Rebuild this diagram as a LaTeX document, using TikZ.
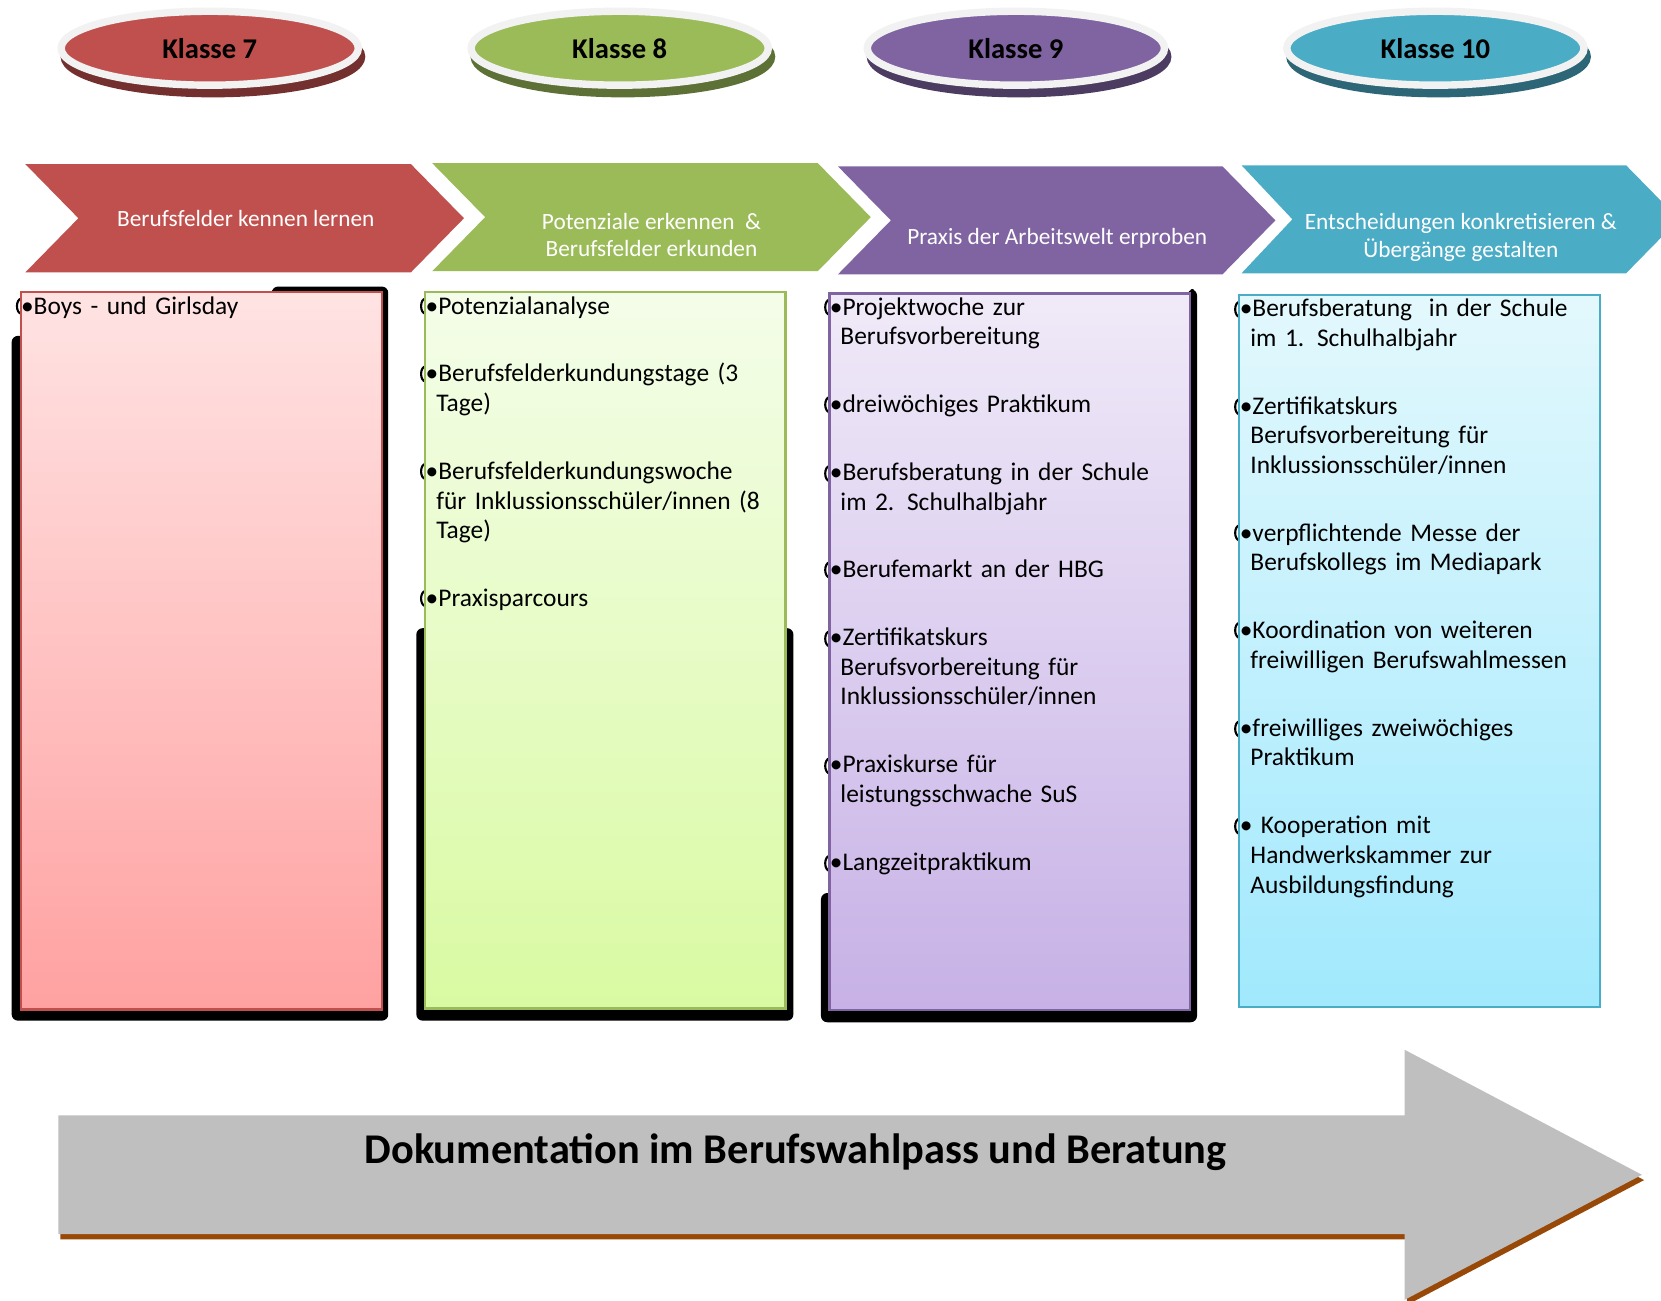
\documentclass[tikz,border=0pt]{standalone}
\usepackage{fontspec}
\setmainfont{Carlito}
\usetikzlibrary{shapes.geometric, positioning}
\definecolor{KlasseRed}{HTML}{C0504D}
\definecolor{KlasseGreen}{HTML}{9BBB59}
\definecolor{KlassePurple}{HTML}{8064A2}
\definecolor{KlasseTeal}{HTML}{4BACC6}
\definecolor{RingGrey}{HTML}{F2F2F2}
\definecolor{ArrowGrey}{HTML}{BFBFBF}
\definecolor{ArrowBrown}{HTML}{984807}
\definecolor{RedTop}{HTML}{FFE3E3}
\definecolor{RedBottom}{HTML}{FFA1A1}
\definecolor{GreenTop}{HTML}{F4FDE9}
\definecolor{GreenBottom}{HTML}{D9FAA2}
\definecolor{PurpleTop}{HTML}{F0EAF8}
\definecolor{PurpleBottom}{HTML}{C7B1E6}
\definecolor{TealTop}{HTML}{E3F8FD}
\definecolor{TealBottom}{HTML}{A1E9FD}
\newcommand{\nextline}{\\\hspace*{5pt}}
\newcommand{\nextitem}{\\[18pt]}
\tikzset{
  % Ellipse styles
  klassenode/.style={ellipse, draw=RingGrey, line width=3.5pt, fill=#1, minimum width=140.3pt, minimum height=34.9pt, inner sep=0pt, font=\fontsize{13.5}{16}\selectfont\bfseries,
    preaction={draw=#1!60!black, fill=#1!60!black, transform canvas={shift={(1.5pt,-4pt)}}}},
  % Phase styles
  phasetext/.style={text=white, align=center, font=\fontsize{11}{13}\selectfont},
  % Box styles
  itembox/.style={rectangle, draw=#1, line width=1pt, minimum width=170pt, minimum height=338.25pt, anchor=north west, inner sep=0pt},
  itemlist/.style={anchor=base west, inner sep=0pt, text width=170pt, align=left, font=\fontsize{12}{14}\selectfont},
  shadowblack/.style={fill=black, rounded corners=3pt},
  bulletmark/.style={draw=black, line width=1pt},
  % Arrow styles
  doclabel/.style={font=\fontsize{20}{24}\selectfont\bfseries}
}
\begin{document}
\begin{tikzpicture}[x=0.5pt, y=-0.5pt]
  \useasboundingbox (0,0) rectangle (1568,1228);

  % Klassen
  \node[klassenode=KlasseRed] (k7) at (198,45.5) {Klasse 7};
  \node[klassenode=KlasseGreen] (k8) at (585,45.5) {Klasse 8};
  \node[klassenode=KlassePurple] (k9) at (959,45.5) {Klasse 9};
  \node[klassenode=KlasseTeal] (k10) at (1355,45.5) {Klasse 10};

  % Phasen
  \fill[KlasseRed] (24,155) -- (388,155) -- (438,206) -- (388,257) -- (24,257) -- (74,206) -- cycle;
  \fill[KlasseGreen] (408,154) -- (772,154) -- (822,205) -- (772,256) -- (408,256) -- (458,205) -- cycle;
  \fill[KlassePurple] (791,157) -- (1154,157) -- (1204,208) -- (1154,259) -- (791,259) -- (841,208) -- cycle;
  \fill[KlasseTeal] (1172,156) -- (1535,156) -- (1585,207) -- (1535,258) -- (1172,258) -- (1220,207) -- cycle;
  \node[phasetext] (p7) at (232,206) {Berufsfelder kennen lernen};
  \node[phasetext] (p8) at (615,222) {Potenziale erkennen~ \&\\Berufsfelder erkunden};
  \node[phasetext] (p9) at (998,225) {Praxis der Arbeitswelt erproben};
  \node[phasetext] (p10) at (1379,224) {Entscheidungen konkretisieren \&\\Übergänge gestalten};

  % Schatten
  \fill[shadowblack] (11,317) -- (11,963.5) -- (366.5,963.5) -- (366.5,270.5) -- (256.5,270.5) -- (256.5,317) -- cycle;
  \fill[shadowblack] (393,593) rectangle (749,963.5);
  \fill[shadowblack] (775,843) -- (775,965) -- (1130,965) -- (1130,273) -- (1121,273) -- (1121,843) -- cycle;
  \foreach \y in {289} \draw[bulletmark] (20,\y) ellipse [x radius=2pt, y radius=3.5pt];
  \foreach \y in {289,353,445,565} \draw[bulletmark] (401.5,\y) ellipse [x radius=2pt, y radius=3.5pt];
  \foreach \y in {290,382,447,538,603,723,815} \draw[bulletmark] (783,\y) ellipse [x radius=2pt, y radius=3.5pt];
  \foreach \y in {292,384,503,595,688,780} \draw[bulletmark] (1170,\y) ellipse [x radius=2pt, y radius=3.5pt];

  % Boxen
  \node[itembox=KlasseRed, minimum width=170.5pt, minimum height=338.5pt, top color=RedTop, bottom color=RedBottom] (b7) at (18.5,275) {};
  \node[itembox=KlasseGreen, top color=GreenTop, bottom color=GreenBottom] (b8) at (400.5,274.5) {};
  \node[itembox=KlassePurple, top color=PurpleTop, bottom color=PurpleBottom] (b9) at (782,276) {};
  \node[itembox=KlasseTeal, minimum height=336.25pt, top color=TealTop, bottom color=TealBottom] (b10) at (1169,277.5) {};

  \node[itemlist] (t7) at (19.5,296.5) {•Boys - und Girlsday};
  \node[itemlist] (t8) at (401.5,296.5) {•Potenzialanalyse\nextitem
    •Berufsfelderkundungstage (3\nextline Tage)\nextitem
    •Berufsfelderkundungswoche\nextline für Inklussionsschüler/innen (8\nextline Tage)\nextitem
    •Praxisparcours};
  \node[itemlist] (t9) at (783,297.5) {•Projektwoche zur\nextline Berufsvorbereitung\nextitem
    •dreiwöchiges Praktikum\nextitem
    •Berufsberatung in der Schule\nextline im 2. Schulhalbjahr\nextitem
    •Berufemarkt an der HBG\nextitem
    •Zertifikatskurs\nextline Berufsvorbereitung für\nextline Inklussionsschüler/innen\nextitem
    •Praxiskurse für\nextline leistungsschwache SuS\nextitem
    •Langzeitpraktikum};
  \node[itemlist] (t10) at (1170,299) {•Berufsberatung~ in der Schule\nextline im 1. Schulhalbjahr\nextitem
    •Zertifikatskurs\nextline Berufsvorbereitung für\nextline Inklussionsschüler/innen\nextitem
    •verpflichtende Messe der\nextline Berufskollegs im Mediapark\nextitem
    •Koordination von weiteren\nextline freiwilligen Berufswahlmessen\nextitem
    •freiwilliges zweiwöchiges\nextline Praktikum\nextitem
    • Kooperation mit\nextline Handwerkskammer zur\nextline Ausbildungsfindung};

  % Dokumentation
  \fill[ArrowBrown, shift={(2,5)}] (55,1053) -- (1326,1053) -- (1326,991) -- (1550,1109) -- (1326,1227) -- (1326,1165) -- (55,1165) -- cycle;
  \fill[ArrowGrey] (55,1053) -- (1326,1053) -- (1326,991) -- (1550,1109) -- (1326,1227) -- (1326,1165) -- (55,1165) -- cycle;
  \node[doclabel] (doc) at (751,1088) {Dokumentation im Berufswahlpass und Beratung};
\end{tikzpicture}
\end{document}
